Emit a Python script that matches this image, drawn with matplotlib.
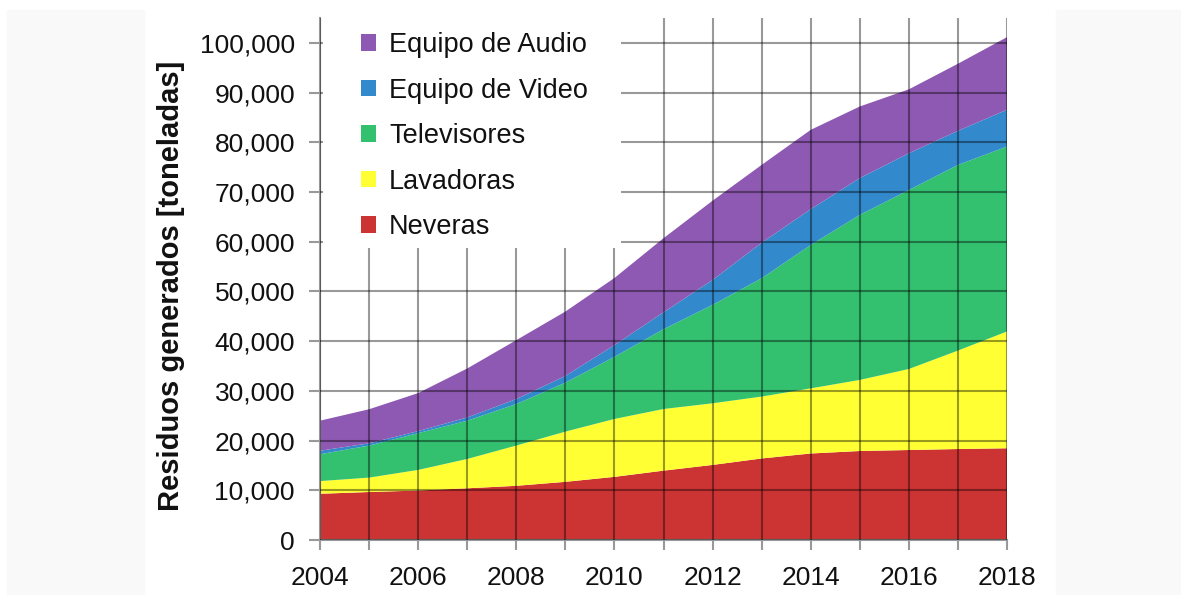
import matplotlib.pyplot as plt
from matplotlib.patches import Patch, Rectangle
from matplotlib.ticker import FuncFormatter

plt.rcParams['font.family'] = ['Liberation Sans', 'DejaVu Sans']

years = list(range(2004, 2019))
neveras = [9300, 9650, 9950, 10400, 10900, 11700, 12700, 13950, 15100, 16400, 17400, 17900, 18100, 18300, 18450]
lavadoras = [2550, 2900, 4150, 5900, 8100, 10100, 11650, 12400, 12400, 12450, 13100, 14300, 16300, 19800, 23500]
televisores = [5400, 6450, 7400, 7700, 8350, 9850, 12500, 16050, 19800, 23800, 28850, 33200, 36000, 37350, 37200]
video = [700, 450, 400, 650, 1000, 1350, 2350, 3400, 5000, 7150, 7200, 7400, 7400, 6850, 7400]
audio = [6050, 6850, 7650, 9850, 11850, 12950, 13500, 14900, 15950, 15650, 15950, 14400, 12850, 13500, 14600]

labels = ['Neveras', 'Lavadoras', 'Televisores', 'Equipo de Video', 'Equipo de Audio']
colors = ['#cc3333', '#ffff33', '#33c170', '#3289cc', '#8e59b2']

W, H = 1181, 595
fig = plt.figure(figsize=(W / 100, H / 100), dpi=100)

# grey side panels of the page
for x0, x1 in [(7, 144), (1056, 1181)]:
    fig.add_artist(Rectangle((x0 / W, 0), (x1 - x0) / W, (H - 10) / H,
                             transform=fig.transFigure, color='#f9f9f9', zorder=0))

ax = fig.add_axes([320 / W, 1 - 540 / H, (1007 - 320) / W, (540 - 18) / H])
ax.patch.set_alpha(0)

ax.stackplot(years, neveras, lavadoras, televisores, video, audio,
             colors=colors, linewidth=0)

ax.set_xlim(2004, 2018)
ax.set_ylim(0, 105000)
ax.set_xticks(range(2004, 2019, 2))
ax.set_xticks(years, minor=True)
ax.set_yticks(range(0, 100001, 10000))
ax.yaxis.set_major_formatter(FuncFormatter(lambda v, p: f'{int(v):,}'))

ax.set_axisbelow(False)
ax.grid(True, which='both', color='black', alpha=0.4, linewidth=1.5)
for s in ['top', 'right']:
    ax.spines[s].set_visible(False)
for s in ['left', 'bottom']:
    ax.spines[s].set_color('#999999')
    ax.spines[s].set_linewidth(1.5)

ax.tick_params(axis='both', which='both', colors='#999999', width=1.5, labelcolor='#111111')
ax.tick_params(axis='y', length=8, pad=10, labelsize=19)
ax.tick_params(axis='x', which='both', length=7, pad=12, labelsize=19)

ax.set_ylabel('Residuos generados [toneladas]', fontsize=21, fontweight='bold', color='#111111')
ax.yaxis.set_label_coords(-0.197, 0.487)

# white box behind the legend hides the grid
ax.add_patch(Rectangle((0.004, 0.559), 0.434, 0.441, transform=ax.transAxes,
                       facecolor='white', edgecolor='none', zorder=4))

handles = [Patch(facecolor=c, edgecolor='none') for c in colors[::-1]]
leg = ax.legend(handles, labels[::-1], loc='upper left', bbox_to_anchor=(0.06, 0.973),
                frameon=False, fontsize=19.5, handlelength=0.55, handleheight=0.55,
                handletextpad=0.48, labelspacing=0.72, borderpad=0, borderaxespad=0)
leg.set_zorder(5)
for t in leg.get_texts():
    t.set_color('#111111')

fig.savefig('out.png', dpi=100)
